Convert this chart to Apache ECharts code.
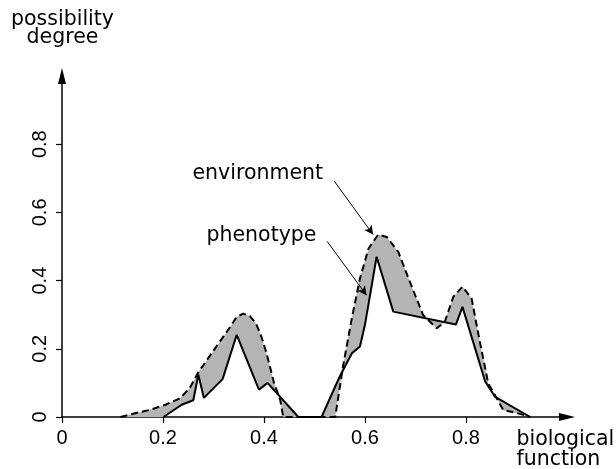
<!DOCTYPE html>
<html lang="en">
<head>
    <meta charset="UTF-8">
    <title>possibility degree</title>
    <script src="https://cdn.jsdelivr.net/npm/echarts@6/dist/echarts.min.js"></script>
    <style>
        html, body { margin: 0; padding: 0; background: #fff; }
    </style>
</head>
<body>
    <div id="main" style="width: 616px;height:469px;"></div>
    <script type="text/javascript">
        // [biological function, possibility degree]
        var envHump1 = [[0.116, 0], [0.145, 0.011], [0.174, 0.021], [0.205, 0.036], [0.234, 0.055],
            [0.253, 0.085], [0.270, 0.131], [0.306, 0.207], [0.333, 0.264], [0.346, 0.294],
            [0.359, 0.303], [0.372, 0.296], [0.384, 0.275], [0.395, 0.235], [0.405, 0.187],
            [0.420, 0.099], [0.432, 0.051], [0.438, 0]];
        var envHump2 = [[0.541, 0], [0.557, 0.153], [0.574, 0.290], [0.590, 0.406], [0.607, 0.494],
            [0.626, 0.535], [0.643, 0.528], [0.666, 0.484], [0.689, 0.396], [0.715, 0.299],
            [0.742, 0.260], [0.758, 0.279], [0.775, 0.353], [0.793, 0.382], [0.811, 0.348],
            [0.828, 0.216], [0.844, 0.099], [0.874, 0.020], [0.900, 0.012], [0.927, 0]];
        var phenoHump1 = [[0.201, 0], [0.237, 0.036], [0.260, 0.049], [0.270, 0.124], [0.281, 0.056],
            [0.318, 0.111], [0.346, 0.241], [0.390, 0.080], [0.407, 0.100], [0.468, 0]];
        var phenoHump2 = [[0.514, 0], [0.550, 0.119], [0.574, 0.187], [0.590, 0.207], [0.600, 0.271],
            [0.623, 0.470], [0.656, 0.309], [0.780, 0.271], [0.793, 0.323], [0.838, 0.104],
            [0.857, 0.060], [0.927, 0]];
        var tickValues = [0, 0.2, 0.4, 0.6, 0.8];
        // annotation arrows: [from, to]
        var envArrow = [[0.539, 0.692], [0.616, 0.535]];
        var phenoArrow = [[0.525, 0.515], [0.603, 0.357]];

        var humps = [
            {env: envHump1, pheno: phenoHump1},
            {env: envHump2, pheno: phenoHump2}
        ];

        var numFont = 'Liberation Sans, Arial, Helvetica, sans-serif';
        var wordFont = '20.5px "DejaVu Sans", sans-serif';
        var myChart = echarts.init(document.getElementById('main'));

        function fmt(v) {
            return v === 0 ? '0' : String(Math.round(v * 10) / 10);
        }

        var option = {
            animation: false,
            backgroundColor: '#fff',
            grid: {left: 62, right: 49, top: 76, bottom: 52},
            xAxis: {
                type: 'value',
                min: 0,
                max: 1.0,
                splitLine: {show: false},
                axisLine: {
                    onZero: false,
                    symbol: ['none', 'triangle'],
                    symbolSize: [8, 16],
                    lineStyle: {color: '#000', width: 1.5}
                },
                axisTick: {customValues: tickValues, length: 6, lineStyle: {color: '#000', width: 1.2}},
                axisLabel: {
                    customValues: tickValues,
                    formatter: fmt,
                    margin: 11,
                    color: '#000',
                    fontSize: 20,
                    fontFamily: numFont
                }
            },
            yAxis: {
                type: 'value',
                min: 0,
                max: 1.0,
                splitLine: {show: false},
                axisLine: {
                    onZero: false,
                    symbol: ['none', 'triangle'],
                    symbolSize: [8, 16],
                    lineStyle: {color: '#000', width: 1.5}
                },
                axisTick: {customValues: tickValues, length: 6, lineStyle: {color: '#000', width: 1.2}},
                axisLabel: {
                    customValues: tickValues,
                    formatter: fmt,
                    rotate: 90,
                    margin: 12,
                    color: '#000',
                    fontSize: 20,
                    fontFamily: numFont
                }
            },
            graphic: [
                {type: 'text', x: 62.5, y: 29,
                    style: {text: 'possibility\ndegree', fill: '#000', font: wordFont,
                        textAlign: 'center', textVerticalAlign: 'middle', lineHeight: 18}},
                {type: 'text', x: 516.5, y: 449.5,
                    style: {text: 'biological\nfunction', fill: '#000', font: wordFont,
                        textAlign: 'left', textVerticalAlign: 'middle', lineHeight: 20}},
                {type: 'text', x: 192.5, y: 173.8,
                    style: {text: 'environment', fill: '#000', font: wordFont,
                        textAlign: 'left', textVerticalAlign: 'middle'}},
                {type: 'text', x: 206.5, y: 235.5,
                    style: {text: 'phenotype', fill: '#000', font: wordFont,
                        textAlign: 'left', textVerticalAlign: 'middle'}}
            ],
            series: [
                {
                    // grey band between the two curves
                    type: 'custom',
                    silent: true,
                    z: 1,
                    data: [[0, 0], [1, 0]],
                    renderItem: function (params, api) {
                        var h = humps[params.dataIndex];
                        var pts = h.env.concat(h.pheno.slice().reverse()).map(function (p) {
                            return api.coord(p);
                        });
                        return {
                            type: 'polygon',
                            shape: {points: pts},
                            style: {fill: '#b4b4b4', stroke: null}
                        };
                    }
                },
                {
                    name: 'environment',
                    type: 'line',
                    z: 3,
                    data: envHump1.concat(envHump2),
                    showSymbol: false,
                    lineStyle: {color: '#000', width: 2, type: [7, 4]},
                    markLine: {
                        silent: true,
                        symbol: ['none', 'arrow'],
                        symbolSize: [7, 9],
                        label: {show: false},
                        lineStyle: {color: '#000', width: 1, type: 'solid'},
                        data: [
                            [{coord: envArrow[0]}, {coord: envArrow[1]}],
                            [{coord: phenoArrow[0]}, {coord: phenoArrow[1]}]
                        ]
                    }
                },
                {
                    name: 'phenotype',
                    type: 'line',
                    z: 4,
                    data: phenoHump1.concat(phenoHump2),
                    showSymbol: false,
                    lineStyle: {color: '#000', width: 2}
                }
            ]
        };

        myChart.setOption(option);
    </script>
</body>
</html>
